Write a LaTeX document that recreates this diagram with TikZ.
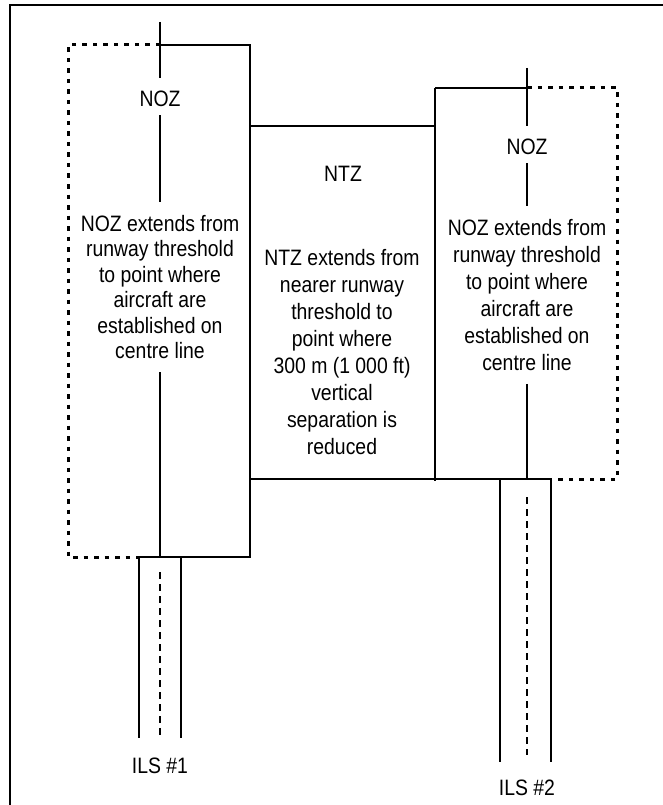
\documentclass[tikz,border=0pt]{standalone}
\usepackage{fontspec}
\setmainfont{Liberation Sans}[FakeStretch=0.87]

\begin{document}
\begin{tikzpicture}[x=1pt, y=-1pt, font=\fontsize{22.3}{26}\selectfont,
    zone/.style={line width=1.7pt},
    outer/.style={line width=3pt, dash pattern=on 4.5pt off 6pt},
    axis/.style={line width=1.6pt},
    centreline/.style={line width=1.4pt, dash pattern=on 7pt off 5pt},
    lbl/.style={anchor=base, text height=21pt, text depth=0pt, inner ysep=8pt, inner xsep=0pt},
    info/.style={align=center, inner ysep=13pt, inner xsep=0pt}]
            \useasboundingbox (0,0) rectangle (663,805);
            % Rahmen
            \draw[zone] (10,805) -- (10,5) -- (663,5);
            % Titik ujung garis tengah
            \coordinate (top1) at (160,22);
            \coordinate (end1) at (160,557);
            \coordinate (top2) at (527,68);
            \coordinate (end2) at (527,479);
            % NOZ kiri
            \draw[zone] (160,45) -- (250,45) -- (250,557) -- (139,557);
            \draw[outer] (160,45) -- (68,45) -- (68,557) -- (139,557);
            % NTZ
            \draw[zone] (250,126) -- (435,126);
            \draw[zone] (435,88) -- (435,481);
            \draw[zone] (250,479) -- (551,479);
            % NOZ kanan
            \draw[zone] (435,88) -- (527,88);
            \draw[outer] (527,88) -- (617,88) -- (617,479) -- (551,479);

            \node[lbl] (noz1) at (160,107) {NOZ};
            \node[info, font=\fontsize{22.3}{25.5}\selectfont] (txt1) at (160,287) {NOZ extends from\\runway threshold\\to point where\\aircraft are\\established on\\centre line};
            \node[lbl] (ntz) at (343,182) {NTZ};
            \node[info, font=\fontsize{22.3}{27}\selectfont] (txtntz) at (342,352) {NTZ extends from\\nearer runway\\threshold to\\point where\\300 m (1 000 ft)\\vertical\\separation is\\reduced};
            \node[lbl] (noz2) at (527,155) {NOZ};
            \node[info, font=\fontsize{22.3}{27}\selectfont] (txt2) at (527,295) {NOZ extends from\\runway threshold\\to point where\\aircraft are\\established on\\centre line};
            \node[lbl] (ils1) at (160,773) {ILS \#1};
            \node[lbl] (ils2) at (527,795) {ILS \#2};

            \draw[axis] (top1) -- (noz1.north);
            \draw[axis] (noz1.south) -- (txt1.north);
            \draw[axis] (txt1.south) -- (end1);
            \draw[axis] (top2) -- (noz2.north);
            \draw[axis] (noz2.south) -- (txt2.north);
            \draw[axis] (txt2.south) -- (end2);
            % ILS #1
            \draw[axis] (139,557) -- (139,738);
            \draw[axis] (181,557) -- (181,738);
            \draw[centreline] (160,572) -- (160,738);
            % ILS #2
            \draw[axis] (500,479) -- (500,762);
            \draw[axis] (551,479) -- (551,762);
            \draw[centreline] (527,497) -- (527,755);
        \end{tikzpicture}
\end{document}
